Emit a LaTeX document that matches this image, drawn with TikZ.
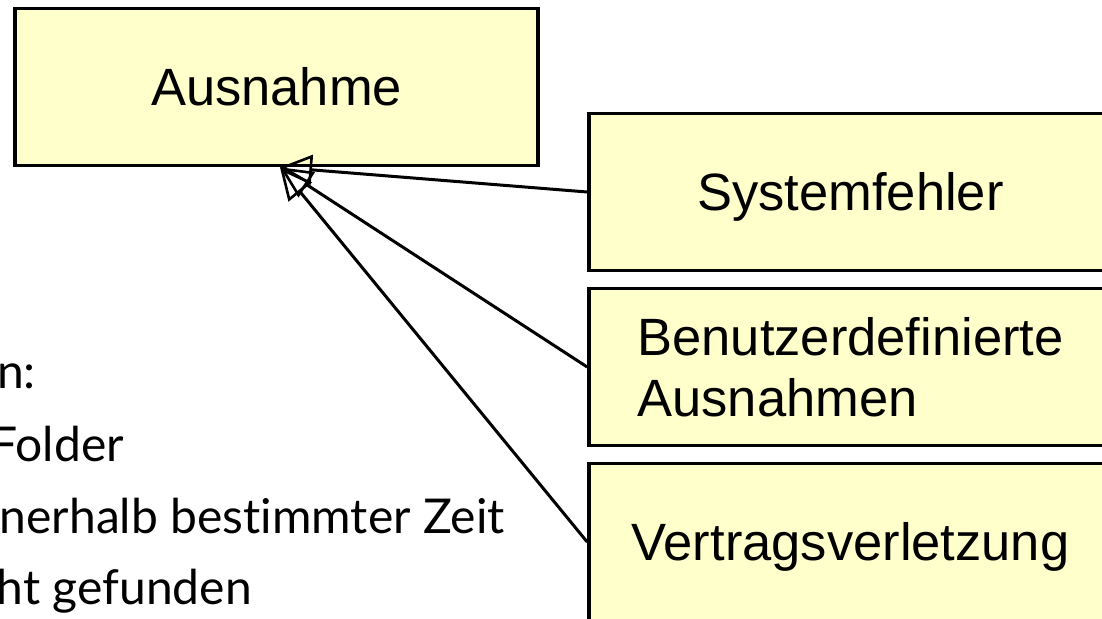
\documentclass[tikz,border=0pt]{standalone}
\usepackage{fontspec}
\setmainfont{Liberation Sans}
\newfontfamily\latofont[Ligatures=NoCommon]{Lato}
\usetikzlibrary{arrows.meta}
\definecolor{boxfill}{RGB}{255,255,204}
\begin{document}
\begin{tikzpicture}[x=1pt,y=-1pt,
  umlbase/.style={draw=black, line width=3.6pt, fill=boxfill, minimum width=523pt, minimum height=157pt, inner sep=0pt, font=\fontsize{52.5}{61}\selectfont},
  umlbox/.style={umlbase, text height=37pt, text depth=0pt},
  gen/.style={line width=3pt, -{Triangle[open, length=32pt, width=30pt, line width=2.6pt]}},
  note/.style={font=\latofont\fontsize{48}{58}\selectfont, anchor=base east, inner sep=0pt}]
\useasboundingbox (0,0) rectangle (1102,618);
\clip (0,0) rectangle (1102,618);
\node[umlbox] (a) at (276.5,87) {Ausnahme};
\node[umlbox] (s) at (850.5,192) {Systemfehler};
\node[umlbase, align=left] (b) at (850.5,367) {Benutzerdefinierte\\Ausnahmen};
\node[umlbox] (v) at (850.5,542) {Vertragsverletzung};
\draw[gen] (s.west) -- ([xshift=3.5pt]a.south);
\draw[gen] (b.west) -- ([xshift=3.5pt]a.south);
\draw[gen] (v.west) -- ([xshift=3.5pt]a.south);
\node[note] (t1) at (36,388) {n:};
\node[note] (t2) at (124,461) {Folder};
\node[note] (t3) at (505,533) {nerhalb bestimmter Zeit};
\node[note] (t4) at (252,604) {ht gefunden};
\end{tikzpicture}
\end{document}
